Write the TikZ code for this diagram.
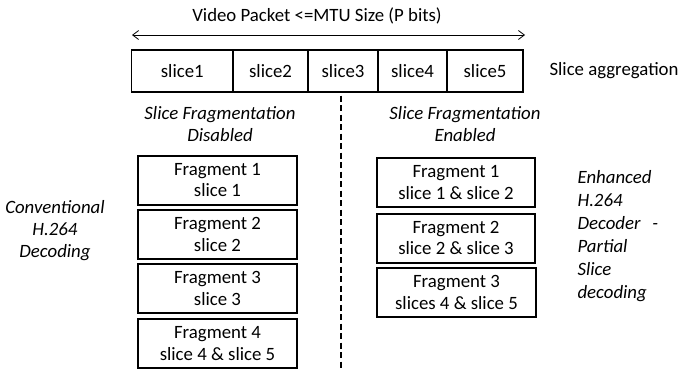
\documentclass[tikz,border=0pt]{standalone}
\usepackage{fontspec}
\setmainfont{Carlito}
\usetikzlibrary{arrows.meta}
\begin{document}
\begin{tikzpicture}[x=1pt,y=-1pt,
  slicebox/.style={draw, line width=1.3pt, minimum height=42pt, inner sep=0pt,
    font=\fontsize{18.8}{21.5}\selectfont},
  fragbox/.style={draw, line width=2pt, minimum width=159pt, minimum height=49pt,
    inner sep=0pt, align=center, font=\fontsize{18.8}{21.5}\selectfont},
  note/.style={align=center, font=\itshape\fontsize{18.8}{22}\selectfont}]
  \useasboundingbox (0,0) rectangle (680,373);

  % Packet size and the five slices
  \node[font=\fontsize{18.8}{21.5}\selectfont] (title) at (317,16) {Video Packet <=MTU Size (P bits)};
  \coordinate (pl) at (132,35);
  \coordinate (pr) at (525,35);
  \draw[{Straight Barb[length=6pt,width=9pt]}-{Straight Barb[length=6pt,width=9pt]}, line width=0.8pt] (pl) -- (pr);

  \foreach \l/\r/\n in {131.5/233/1, 233/308/2, 308/378/3, 378/447/4, 447/523/5} {
    \pgfmathsetmacro{\slicewd}{\r-\l}
    \node[slicebox, minimum width=\slicewd pt] (s\n) at ({(\l+\r)/2},71) {slice\n};
  }
  \node[font=\fontsize{18.8}{21.5}\selectfont, anchor=west] (agg) at (546,71) {Slice aggregation};

  % Split between the two cases
  \coordinate (cut) at (341,368);
  \draw[line width=1.3pt, dash pattern=on 6pt off 3.5pt, shorten <=3pt] (s3.south -| cut) -- (cut);

  \node[note] (dis) at (220,124) {Slice Fragmentation\\Disabled};
  \node[note] (ena) at (465,124) {Slice Fragmentation\\Enabled};

  % Fragmentation disabled
  \node[fragbox] (d1) at (217.5,180) {Fragment 1\\slice 1};
  \node[fragbox] (d2) at (217.5,234.5) {Fragment 2\\slice 2};
  \node[fragbox] (d3) at (217.5,288.5) {Fragment 3\\slice 3};
  \node[fragbox] (d4) at (217.5,343.5) {Fragment 4\\slice 4 \& slice 5};
  \node[note] (conv) at (55,231) {Conventional\\H.264\\Decoding};

  % Fragmentation enabled
  \node[fragbox, minimum width=158pt] (e1) at (456,182.5) {Fragment 1\\slice 1 \& slice 2};
  \node[fragbox, minimum width=158pt] (e2) at (456,238) {Fragment 2\\slice 2 \& slice 3};
  \node[fragbox, minimum width=159pt] (e3) at (456.5,292.5) {Fragment 3\\slices 4 \& slice 5};
  \node[note, align=left, anchor=north west, font=\itshape\fontsize{18.8}{23}\selectfont] (enh) at (574,167)
    {Enhanced\\H.264\\Decoder\hspace{12pt}-\\Partial\\Slice\\decoding};
\end{tikzpicture}
\end{document}
